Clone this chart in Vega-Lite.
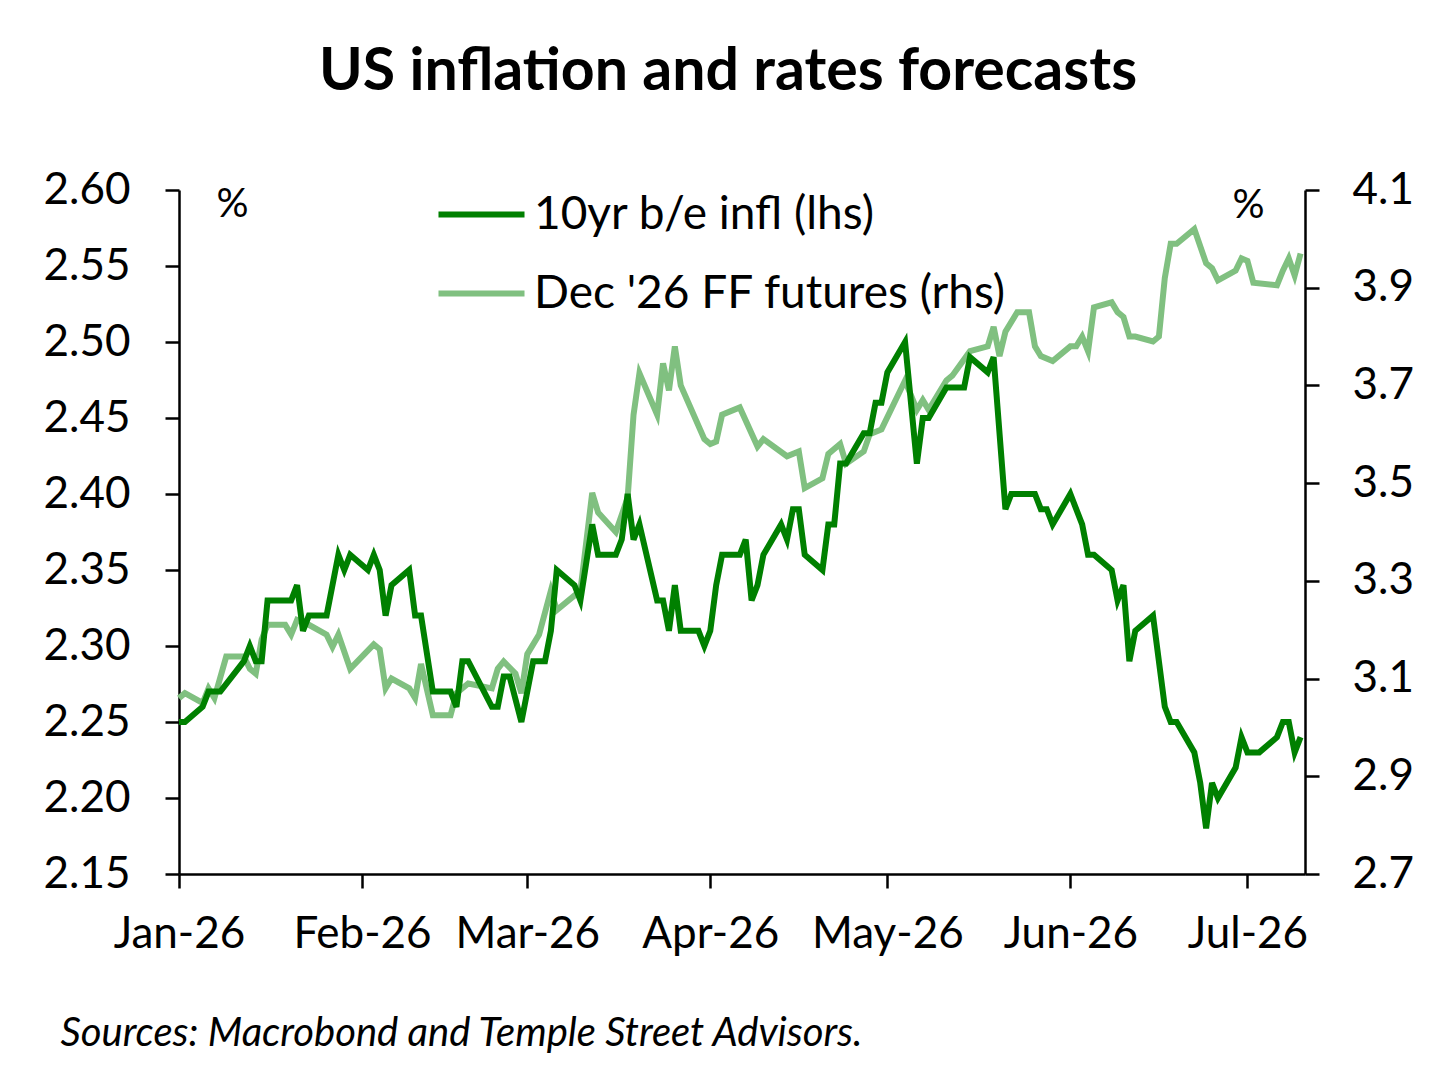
{
  "$schema": "https://vega.github.io/schema/vega-lite/v6.json",
  "width": 1126,
  "height": 684,
  "autosize": {"type": "none"},
  "padding": {"left": 179, "top": 190, "right": 151, "bottom": 215},
  "background": "white",
  "title": {
    "text": "US inflation and rates forecasts",
    "fontSize": 59,
    "fontWeight": "bold",
    "color": "black",
    "anchor": "middle",
    "frame": "group",
    "baseline": "alphabetic",
    "offset": 19,
    "dx": -14
  },
  "datasets": {
    "infl": [
      {"date": "2026-01-01", "value": 2.25},
      {"date": "2026-01-02", "value": 2.25},
      {"date": "2026-01-05", "value": 2.26},
      {"date": "2026-01-06", "value": 2.27},
      {"date": "2026-01-08", "value": 2.27},
      {"date": "2026-01-10", "value": 2.28},
      {"date": "2026-01-12", "value": 2.29},
      {"date": "2026-01-13", "value": 2.30},
      {"date": "2026-01-14", "value": 2.29},
      {"date": "2026-01-15", "value": 2.29},
      {"date": "2026-01-16", "value": 2.33},
      {"date": "2026-01-20", "value": 2.33},
      {"date": "2026-01-21", "value": 2.34},
      {"date": "2026-01-22", "value": 2.31},
      {"date": "2026-01-23", "value": 2.32},
      {"date": "2026-01-26", "value": 2.32},
      {"date": "2026-01-28", "value": 2.36},
      {"date": "2026-01-29", "value": 2.35},
      {"date": "2026-01-30", "value": 2.36},
      {"date": "2026-02-02", "value": 2.35},
      {"date": "2026-02-03", "value": 2.36},
      {"date": "2026-02-04", "value": 2.35},
      {"date": "2026-02-05", "value": 2.32},
      {"date": "2026-02-06", "value": 2.34},
      {"date": "2026-02-09", "value": 2.35},
      {"date": "2026-02-10", "value": 2.32},
      {"date": "2026-02-11", "value": 2.32},
      {"date": "2026-02-13", "value": 2.27},
      {"date": "2026-02-16", "value": 2.27},
      {"date": "2026-02-17", "value": 2.26},
      {"date": "2026-02-18", "value": 2.29},
      {"date": "2026-02-19", "value": 2.29},
      {"date": "2026-02-23", "value": 2.26},
      {"date": "2026-02-24", "value": 2.26},
      {"date": "2026-02-25", "value": 2.28},
      {"date": "2026-02-26", "value": 2.28},
      {"date": "2026-02-28", "value": 2.25},
      {"date": "2026-03-02", "value": 2.29},
      {"date": "2026-03-04", "value": 2.29},
      {"date": "2026-03-05", "value": 2.31},
      {"date": "2026-03-06", "value": 2.35},
      {"date": "2026-03-09", "value": 2.34},
      {"date": "2026-03-10", "value": 2.33},
      {"date": "2026-03-12", "value": 2.38},
      {"date": "2026-03-13", "value": 2.36},
      {"date": "2026-03-16", "value": 2.36},
      {"date": "2026-03-17", "value": 2.37},
      {"date": "2026-03-18", "value": 2.40},
      {"date": "2026-03-19", "value": 2.37},
      {"date": "2026-03-20", "value": 2.38},
      {"date": "2026-03-23", "value": 2.33},
      {"date": "2026-03-24", "value": 2.33},
      {"date": "2026-03-25", "value": 2.31},
      {"date": "2026-03-26", "value": 2.34},
      {"date": "2026-03-27", "value": 2.31},
      {"date": "2026-03-30", "value": 2.31},
      {"date": "2026-03-31", "value": 2.30},
      {"date": "2026-04-01", "value": 2.31},
      {"date": "2026-04-02", "value": 2.34},
      {"date": "2026-04-03", "value": 2.36},
      {"date": "2026-04-06", "value": 2.36},
      {"date": "2026-04-07", "value": 2.37},
      {"date": "2026-04-08", "value": 2.33},
      {"date": "2026-04-09", "value": 2.34},
      {"date": "2026-04-10", "value": 2.36},
      {"date": "2026-04-13", "value": 2.38},
      {"date": "2026-04-14", "value": 2.37},
      {"date": "2026-04-15", "value": 2.39},
      {"date": "2026-04-16", "value": 2.39},
      {"date": "2026-04-17", "value": 2.36},
      {"date": "2026-04-20", "value": 2.35},
      {"date": "2026-04-21", "value": 2.38},
      {"date": "2026-04-22", "value": 2.38},
      {"date": "2026-04-23", "value": 2.42},
      {"date": "2026-04-24", "value": 2.42},
      {"date": "2026-04-27", "value": 2.44},
      {"date": "2026-04-28", "value": 2.44},
      {"date": "2026-04-29", "value": 2.46},
      {"date": "2026-04-30", "value": 2.46},
      {"date": "2026-05-01", "value": 2.48},
      {"date": "2026-05-04", "value": 2.50},
      {"date": "2026-05-06", "value": 2.42},
      {"date": "2026-05-07", "value": 2.45},
      {"date": "2026-05-08", "value": 2.45},
      {"date": "2026-05-11", "value": 2.47},
      {"date": "2026-05-14", "value": 2.47},
      {"date": "2026-05-15", "value": 2.49},
      {"date": "2026-05-18", "value": 2.48},
      {"date": "2026-05-19", "value": 2.49},
      {"date": "2026-05-21", "value": 2.39},
      {"date": "2026-05-22", "value": 2.40},
      {"date": "2026-05-26", "value": 2.40},
      {"date": "2026-05-27", "value": 2.39},
      {"date": "2026-05-28", "value": 2.39},
      {"date": "2026-05-29", "value": 2.38},
      {"date": "2026-06-01", "value": 2.40},
      {"date": "2026-06-03", "value": 2.38},
      {"date": "2026-06-04", "value": 2.36},
      {"date": "2026-06-05", "value": 2.36},
      {"date": "2026-06-08", "value": 2.35},
      {"date": "2026-06-09", "value": 2.33},
      {"date": "2026-06-10", "value": 2.34},
      {"date": "2026-06-11", "value": 2.29},
      {"date": "2026-06-12", "value": 2.31},
      {"date": "2026-06-15", "value": 2.32},
      {"date": "2026-06-17", "value": 2.26},
      {"date": "2026-06-18", "value": 2.25},
      {"date": "2026-06-19", "value": 2.25},
      {"date": "2026-06-22", "value": 2.23},
      {"date": "2026-06-23", "value": 2.21},
      {"date": "2026-06-24", "value": 2.18},
      {"date": "2026-06-25", "value": 2.21},
      {"date": "2026-06-26", "value": 2.20},
      {"date": "2026-06-29", "value": 2.22},
      {"date": "2026-06-30", "value": 2.24},
      {"date": "2026-07-01", "value": 2.23},
      {"date": "2026-07-03", "value": 2.23},
      {"date": "2026-07-06", "value": 2.24},
      {"date": "2026-07-07", "value": 2.25},
      {"date": "2026-07-08", "value": 2.25},
      {"date": "2026-07-09", "value": 2.23},
      {"date": "2026-07-10", "value": 2.24}
    ],
    "ff": [
      {"date": "2026-01-01", "value": 3.06},
      {"date": "2026-01-02", "value": 3.07},
      {"date": "2026-01-05", "value": 3.05},
      {"date": "2026-01-06", "value": 3.08},
      {"date": "2026-01-07", "value": 3.06},
      {"date": "2026-01-09", "value": 3.145},
      {"date": "2026-01-12", "value": 3.145},
      {"date": "2026-01-13", "value": 3.12},
      {"date": "2026-01-14", "value": 3.11},
      {"date": "2026-01-15", "value": 3.18},
      {"date": "2026-01-16", "value": 3.21},
      {"date": "2026-01-19", "value": 3.21},
      {"date": "2026-01-20", "value": 3.19},
      {"date": "2026-01-21", "value": 3.22},
      {"date": "2026-01-23", "value": 3.21},
      {"date": "2026-01-26", "value": 3.19},
      {"date": "2026-01-27", "value": 3.165},
      {"date": "2026-01-28", "value": 3.19},
      {"date": "2026-01-30", "value": 3.12},
      {"date": "2026-02-03", "value": 3.17},
      {"date": "2026-02-04", "value": 3.16},
      {"date": "2026-02-05", "value": 3.08},
      {"date": "2026-02-06", "value": 3.10},
      {"date": "2026-02-09", "value": 3.08},
      {"date": "2026-02-10", "value": 3.06},
      {"date": "2026-02-11", "value": 3.13},
      {"date": "2026-02-13", "value": 3.025},
      {"date": "2026-02-16", "value": 3.025},
      {"date": "2026-02-17", "value": 3.07},
      {"date": "2026-02-19", "value": 3.09},
      {"date": "2026-02-23", "value": 3.08},
      {"date": "2026-02-24", "value": 3.12},
      {"date": "2026-02-25", "value": 3.135},
      {"date": "2026-02-27", "value": 3.11},
      {"date": "2026-02-28", "value": 3.07},
      {"date": "2026-03-01", "value": 3.15},
      {"date": "2026-03-03", "value": 3.19},
      {"date": "2026-03-05", "value": 3.28},
      {"date": "2026-03-06", "value": 3.24},
      {"date": "2026-03-10", "value": 3.28},
      {"date": "2026-03-12", "value": 3.48},
      {"date": "2026-03-13", "value": 3.44},
      {"date": "2026-03-16", "value": 3.40},
      {"date": "2026-03-18", "value": 3.47},
      {"date": "2026-03-19", "value": 3.64},
      {"date": "2026-03-20", "value": 3.725},
      {"date": "2026-03-23", "value": 3.64},
      {"date": "2026-03-24", "value": 3.745},
      {"date": "2026-03-25", "value": 3.69},
      {"date": "2026-03-26", "value": 3.78},
      {"date": "2026-03-27", "value": 3.70},
      {"date": "2026-03-31", "value": 3.59},
      {"date": "2026-04-01", "value": 3.58},
      {"date": "2026-04-02", "value": 3.585},
      {"date": "2026-04-03", "value": 3.64},
      {"date": "2026-04-06", "value": 3.655},
      {"date": "2026-04-09", "value": 3.575},
      {"date": "2026-04-10", "value": 3.59},
      {"date": "2026-04-14", "value": 3.555},
      {"date": "2026-04-16", "value": 3.565},
      {"date": "2026-04-17", "value": 3.49},
      {"date": "2026-04-20", "value": 3.51},
      {"date": "2026-04-21", "value": 3.56},
      {"date": "2026-04-23", "value": 3.58},
      {"date": "2026-04-24", "value": 3.54},
      {"date": "2026-04-27", "value": 3.565},
      {"date": "2026-04-28", "value": 3.60},
      {"date": "2026-04-30", "value": 3.61},
      {"date": "2026-05-04", "value": 3.71},
      {"date": "2026-05-06", "value": 3.65},
      {"date": "2026-05-07", "value": 3.67},
      {"date": "2026-05-08", "value": 3.65},
      {"date": "2026-05-11", "value": 3.71},
      {"date": "2026-05-12", "value": 3.72},
      {"date": "2026-05-15", "value": 3.77},
      {"date": "2026-05-18", "value": 3.78},
      {"date": "2026-05-19", "value": 3.82},
      {"date": "2026-05-20", "value": 3.76},
      {"date": "2026-05-21", "value": 3.81},
      {"date": "2026-05-23", "value": 3.85},
      {"date": "2026-05-25", "value": 3.85},
      {"date": "2026-05-26", "value": 3.78},
      {"date": "2026-05-27", "value": 3.76},
      {"date": "2026-05-29", "value": 3.75},
      {"date": "2026-06-01", "value": 3.78},
      {"date": "2026-06-02", "value": 3.78},
      {"date": "2026-06-03", "value": 3.80},
      {"date": "2026-06-04", "value": 3.77},
      {"date": "2026-06-05", "value": 3.86},
      {"date": "2026-06-08", "value": 3.87},
      {"date": "2026-06-09", "value": 3.85},
      {"date": "2026-06-10", "value": 3.84},
      {"date": "2026-06-11", "value": 3.80},
      {"date": "2026-06-12", "value": 3.80},
      {"date": "2026-06-15", "value": 3.79},
      {"date": "2026-06-16", "value": 3.80},
      {"date": "2026-06-17", "value": 3.92},
      {"date": "2026-06-18", "value": 3.99},
      {"date": "2026-06-19", "value": 3.99},
      {"date": "2026-06-22", "value": 4.02},
      {"date": "2026-06-24", "value": 3.95},
      {"date": "2026-06-25", "value": 3.94},
      {"date": "2026-06-26", "value": 3.915},
      {"date": "2026-06-29", "value": 3.935},
      {"date": "2026-06-30", "value": 3.96},
      {"date": "2026-07-01", "value": 3.955},
      {"date": "2026-07-02", "value": 3.91},
      {"date": "2026-07-06", "value": 3.905},
      {"date": "2026-07-07", "value": 3.935},
      {"date": "2026-07-08", "value": 3.96},
      {"date": "2026-07-09", "value": 3.925},
      {"date": "2026-07-10", "value": 3.97}
    ]
  },
  "encoding": {
    "x": {
      "field": "date",
      "type": "temporal",
      "scale": {
        "type": "utc",
        "domain": [
          {"year": 2026, "month": 1, "date": 1, "utc": true},
          {"year": 2026, "month": 7, "date": 10, "hours": 18, "utc": true}
        ]
      },
      "axis": {
        "values": [
          {"year": 2026, "month": 1, "date": 1, "utc": true},
          {"year": 2026, "month": 2, "date": 1, "utc": true},
          {"year": 2026, "month": 3, "date": 1, "utc": true},
          {"year": 2026, "month": 4, "date": 1, "utc": true},
          {"year": 2026, "month": 5, "date": 1, "utc": true},
          {"year": 2026, "month": 6, "date": 1, "utc": true},
          {"year": 2026, "month": 7, "date": 1, "utc": true}
        ],
        "format": "%b-%y",
        "labelFlush": false,
        "labelOverlap": false,
        "labelPadding": 24,
        "title": "Sources: Macrobond and Temple Street Advisors.",
        "titleFontStyle": "italic",
        "titleFontWeight": "normal",
        "titleFontSize": 40,
        "titleAnchor": "start",
        "titleAlign": "left",
        "titleBaseline": "alphabetic",
        "titleX": -119,
        "titleY": 171
      }
    }
  },
  "layer": [
    {
      "data": {"name": "ff"},
      "mark": {"type": "line", "strokeWidth": 6},
      "encoding": {
        "y": {
          "field": "value",
          "type": "quantitative",
          "scale": {"domain": [2.7, 4.1], "zero": false, "nice": false},
          "axis": {
            "orient": "right",
            "values": [2.7, 2.9, 3.1, 3.3, 3.5, 3.7, 3.9, 4.1],
            "format": ".1f",
            "labelPadding": 33,
            "title": "%",
            "titleAngle": 0,
            "titleX": -57,
            "titleY": 15,
            "titleAlign": "center",
            "titleBaseline": "middle"
          }
        },
        "color": {
          "datum": "Dec '26 FF futures (rhs)",
          "type": "nominal",
          "scale": {
            "domain": ["10yr b/e infl (lhs)", "Dec '26 FF futures (rhs)"],
            "range": ["#008000", "#80c080"]
          }
        }
      }
    },
    {
      "data": {"name": "infl"},
      "mark": {"type": "line", "strokeWidth": 6},
      "encoding": {
        "y": {
          "field": "value",
          "type": "quantitative",
          "scale": {"domain": [2.15, 2.6], "zero": false, "nice": false},
          "axis": {
            "orient": "left",
            "values": [2.15, 2.2, 2.25, 2.3, 2.35, 2.4, 2.45, 2.5, 2.55, 2.6],
            "format": ".2f",
            "labelPadding": 35,
            "title": "%",
            "titleAngle": 0,
            "titleX": 53,
            "titleY": 14,
            "titleAlign": "center",
            "titleBaseline": "middle"
          }
        },
        "color": {
          "datum": "10yr b/e infl (lhs)",
          "type": "nominal",
          "scale": {
            "domain": ["10yr b/e infl (lhs)", "Dec '26 FF futures (rhs)"],
            "range": ["#008000", "#80c080"]
          }
        }
      }
    }
  ],
  "resolve": {"scale": {"y": "independent"}, "axis": {"y": "independent"}},
  "config": {
    "font": "Lato",
    "view": {"stroke": null},
    "axis": {
      "grid": false,
      "domainColor": "black",
      "domainWidth": 2.5,
      "tickColor": "black",
      "tickWidth": 2.5,
      "tickSize": 14,
      "labelFontSize": 44,
      "labelColor": "black",
      "titleColor": "black",
      "titleFontSize": 40,
      "titleFontWeight": "normal"
    },
    "legend": {
      "orient": "none",
      "legendX": 256,
      "legendY": -22,
      "title": null,
      "symbolType": "stroke",
      "symbolSize": 7400,
      "symbolStrokeWidth": 6,
      "labelFontSize": 46,
      "labelColor": "black",
      "labelOffset": 6,
      "labelLimit": 0,
      "rowPadding": 9,
      "padding": 0
    }
  }
}
